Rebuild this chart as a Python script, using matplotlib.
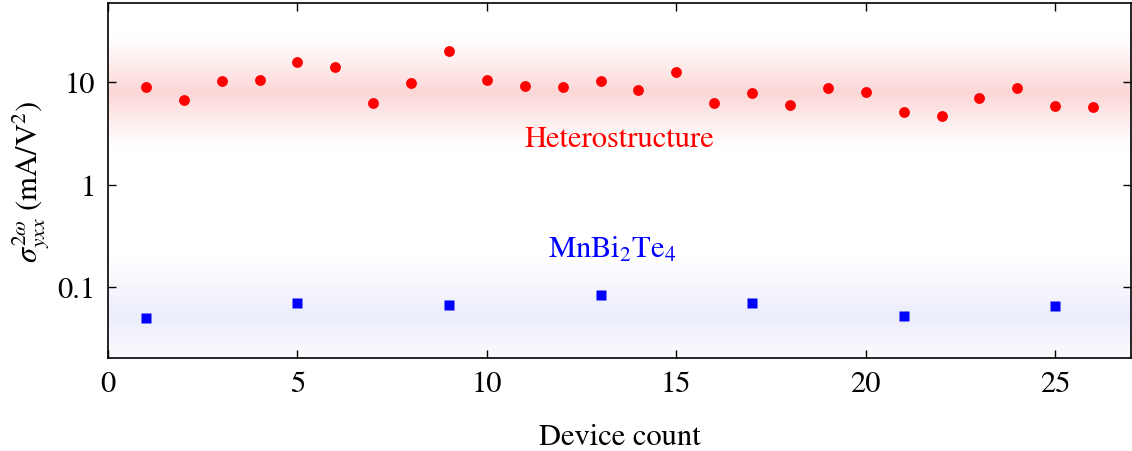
import numpy as np
import matplotlib.pyplot as plt
from matplotlib import ticker

plt.rcParams["font.family"] = "STIXGeneral"
plt.rcParams["mathtext.fontset"] = "stix"
plt.rcParams["font.size"] = 22

# nonlinear conductivity per device
dev_hetero = np.arange(1, 27)
sigma_hetero = [9.0, 6.67, 10.3, 10.5, 15.7, 14.0, 6.28, 9.78, 20.0, 10.5,
                9.08, 8.88, 10.3, 8.41, 12.4, 6.28, 7.87, 5.97, 8.74, 7.98,
                5.14, 4.63, 7.05, 8.74, 5.89, 5.74]
dev_mbt = [1, 5, 9, 13, 17, 21, 25]
sigma_mbt = [0.0501, 0.0693, 0.0662, 0.0841, 0.0703, 0.0521, 0.0652]

# shaded bands (log10 centre, half width in decades)
band_hetero = (0.90, 0.56)
band_mbt = (-1.28, 0.60)

ylim = (0.0203, 59.0)

fig = plt.figure(figsize=(11.32, 4.52), dpi=100)
ax = fig.add_axes([108/1132, 1 - 359/452, 1023/1132, 355/452])
ax.set_yscale("log")
ax.set_xlim(0, 27)
ax.set_ylim(*ylim)

# gradient background built in log space, placed in axes coords
ly = np.linspace(np.log10(ylim[1]), np.log10(ylim[0]), 600)
img = np.ones((len(ly), 2, 3))
def add_band(centre, half, rgb):
    w = np.clip(1 - np.abs(ly - centre) / half, 0, 1) ** 1.2
    for c in range(3):
        img[:, :, c] -= (w * (1 - rgb[c]))[:, None]
add_band(*band_hetero, (0.99, 0.84, 0.84))
add_band(*band_mbt, (0.925, 0.93, 0.985))
ax.imshow(np.clip(img, 0, 1), extent=[0, 1, 0, 1], transform=ax.transAxes,
          aspect="auto", interpolation="bilinear", zorder=0)

ax.plot(dev_hetero, sigma_hetero, "o", color="#ff0000", ms=7.8, mec="none", zorder=3)
ax.plot(dev_mbt, sigma_mbt, "s", color="#0000ff", ms=7.5, mec="none", zorder=3)

ax.text(13.5, 2.75, "Heterostructure", color="#ff0000", ha="center", va="center")
ax.text(13.3, 0.235, r"MnBi$_2$Te$_4$", color="#0000ff", ha="center", va="center")

ax.set_xticks([0, 5, 10, 15, 20, 25])
ax.yaxis.set_major_locator(ticker.FixedLocator([0.1, 1, 10]))
ax.yaxis.set_minor_locator(ticker.NullLocator())
ax.yaxis.set_major_formatter(ticker.FixedFormatter(["0.1", "1", "10"]))
ax.tick_params(direction="in", top=True, right=True, length=6, width=1, pad=9)
for s in ax.spines.values():
    s.set_linewidth(1.2)

ax.set_xlabel("Device count", labelpad=18)
ax.set_ylabel(r"$\sigma^{2\omega}_{yxx}$ (mA/V$^2$)", labelpad=4)

fig.savefig("out.png", dpi=100)
